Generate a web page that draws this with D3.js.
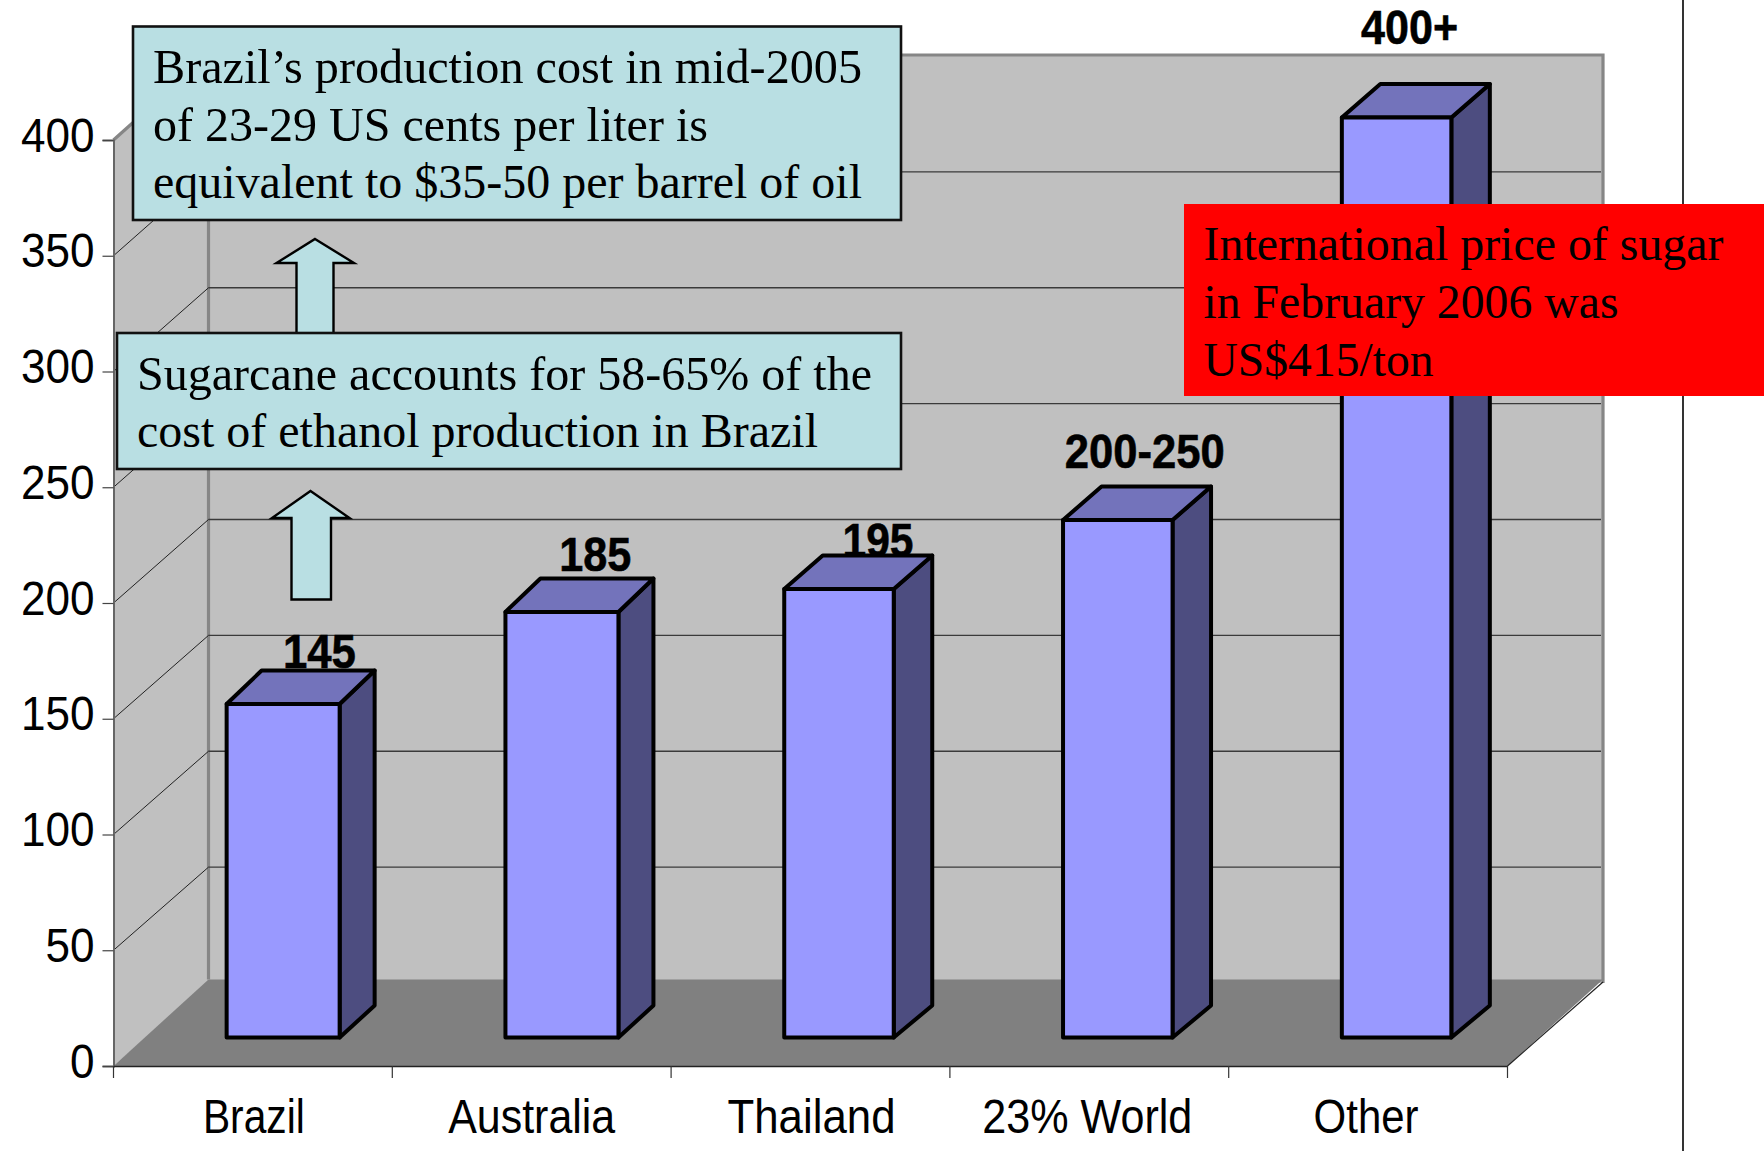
<!DOCTYPE html>
<html>
<head>
<meta charset="utf-8">
<script src="https://cdn.jsdelivr.net/npm/d3@7"></script>
<style>
  html, body { margin: 0; padding: 0; background: #fff; }
  svg { display: block; }
  .sans { font-family: "Liberation Sans", Arial, sans-serif; }
  .serif { font-family: "Liberation Serif", "Times New Roman", serif; }
</style>
</head>
<body>
<svg id="chart" width="1764" height="1151"></svg>
<script>
// Sugar production cost by origin
const categories = ["Brazil", "Australia", "Thailand", "23% World", "Other"];
const costs = [145, 185, 195, 225, 400];
const valueLabels = ["145", "185", "195", "200-250", "400+"];
const yTicks = [0, 50, 100, 150, 200, 250, 300, 350, 400];

// Layout of the 3D box
const W = 1764, H = 1151;
const frontLeft = 113.5, frontRight = 1507.5, frontBase = 1066, frontTop = 140;
const backLeft = 208.5, backRight = 1603, backBase = 983, backTop = 55, floorBack = 979.5;
const barBase = 1037.5, barTop400 = 117.5, barDy = 33.5, barBottomDy = 32;
const barRightSpan = 148;   // front-left corner to back-right corner of a bar

const svg = d3.select("#chart");

const yFront = d3.scaleLinear().domain([0, 400]).range([frontBase, frontTop]);
const yBack = d3.scaleLinear().domain([0, 400]).range([backBase, backTop + 1]);
const yBar = d3.scaleLinear().domain([0, 400]).range([barBase, barTop400]);
const xBand = d3.scaleBand().domain(categories).range([frontLeft, frontRight]);
const barOffset = 29.5;
const barWidths = [113, 113, 109.5, 109.5, 109.5];
const baseWidth = xBand.bandwidth() * 0.4;
const barX = c => xBand(c) + xBand.bandwidth() / 2 - baseWidth / 2 + barOffset;

const pts = a => a.map(p => p.join(",")).join(" ");

// Walls and floor
const box = svg.append("g");
box.append("polygon")
  .attr("points", pts([[frontLeft, frontTop], [backLeft, backTop], [backLeft, backBase], [frontLeft, frontBase]]))
  .attr("fill", "#c0c0c0");
box.append("rect")
  .attr("x", backLeft).attr("y", backTop)
  .attr("width", backRight - backLeft).attr("height", backBase - backTop)
  .attr("fill", "#c0c0c0");
box.append("polygon")
  .attr("points", pts([[frontLeft, frontBase], [backLeft, floorBack], [backRight, floorBack], [frontRight, frontBase]]))
  .attr("fill", "#808080");

// Gridlines across the back wall and the side wall
const grid = svg.append("g");
grid.selectAll("line.back")
  .data(yTicks.filter(t => t > 0 && t < 400))
  .join("line").attr("class", "back")
  .attr("x1", backLeft).attr("x2", backRight - 2)
  .attr("y1", d => yBack(d)).attr("y2", d => yBack(d))
  .attr("stroke", "#3a3a3a").attr("stroke-width", 1.3);
grid.selectAll("line.side")
  .data(yTicks.filter(t => t > 0 && t < 400))
  .join("line").attr("class", "side")
  .attr("x1", frontLeft).attr("x2", backLeft)
  .attr("y1", d => yFront(d)).attr("y2", d => yBack(d))
  .attr("stroke", "#222").attr("stroke-width", 1);

// Wall outline
box.append("polyline")
  .attr("points", pts([[frontLeft, frontTop], [backLeft, backTop], [backRight, backTop], [backRight, backBase]]))
  .attr("fill", "none").attr("stroke", "#868686").attr("stroke-width", 3.2);
box.append("line")
  .attr("x1", backLeft).attr("x2", backLeft).attr("y1", backTop).attr("y2", floorBack)
  .attr("stroke", "#868686").attr("stroke-width", 3.2);
box.append("line")
  .attr("x1", frontRight).attr("y1", frontBase).attr("x2", backRight).attr("y2", backBase - 1)
  .attr("stroke", "#222").attr("stroke-width", 1.2);

// Axes
const yAxis = svg.append("g").attr("class", "sans")
  .attr("transform", `translate(${frontLeft},0)`)
  .call(d3.axisLeft(yFront).tickValues(yTicks).tickSize(11).tickPadding(0));
yAxis.select(".domain").attr("stroke", "#666").attr("stroke-width", 2);
yAxis.selectAll(".tick line").attr("stroke", "#444").attr("stroke-width", 1.2);
yAxis.selectAll(".tick text")
  .attr("font-size", 49).attr("fill", "#000")
  .attr("x", 0).attr("dy", 0)
  .attr("text-anchor", "end")
  .attr("transform", "translate(-19,11) scale(0.9,1)");

const xAxis = svg.append("g").attr("class", "sans")
  .attr("transform", `translate(0,${frontBase})`)
  .call(d3.axisBottom(xBand).tickSize(0).tickPadding(0));
xAxis.select(".domain").attr("stroke", "#222").attr("stroke-width", 1.5);
const xLabelWidths = [102, 167, 168, 210, 105];
const xLabelShift = [1, 0, 1, -2, -2];
xAxis.selectAll(".tick text")
  .attr("font-size", 49).attr("fill", "#000")
  .attr("y", 67).attr("dy", 0)
  .attr("dx", (d, i) => xLabelShift[i])
  .attr("textLength", (d, i) => xLabelWidths[i])
  .attr("lengthAdjust", "spacingAndGlyphs");

svg.append("g").selectAll("line")
  .data(categories.map(c => xBand(c)).concat(frontRight))
  .join("line")
  .attr("x1", d => d).attr("x2", d => d)
  .attr("y1", frontBase).attr("y2", frontBase + 12)
  .attr("stroke", "#333").attr("stroke-width", 1.2);

// Value labels sit behind the bars, so a bar top can cut into them
const labelShift = [37, 34, 38, 26, 12];
const labelBaseline = [668, 571, 557, 468, 44];
const labelWidths = [73, 72, 71, 160, 97];
svg.append("g").attr("class", "sans").selectAll("text")
  .data(valueLabels)
  .join("text")
  .attr("x", (d, i) => barX(categories[i]) + baseWidth / 2 + labelShift[i])
  .attr("y", (d, i) => labelBaseline[i])
  .attr("text-anchor", "middle")
  .attr("font-size", 49).attr("font-weight", "bold").attr("fill", "#000")
  .attr("stroke", "#000").attr("stroke-width", 0.6)
  .attr("textLength", (d, i) => labelWidths[i])
  .attr("lengthAdjust", "spacingAndGlyphs")
  .text(d => d);

// Bars
const bars = svg.append("g").selectAll("g")
  .data(categories.map((c, i) => ({ c, v: costs[i], w: barWidths[i] })))
  .join("g")
  .attr("stroke", "#000").attr("stroke-width", 4).attr("stroke-linejoin", "round");
bars.append("polygon")
  .attr("fill", "#4d4d80")
  .attr("points", d => {
    const x0 = barX(d.c), x1 = x0 + d.w, x2 = x0 + barRightSpan, t = yBar(d.v);
    return pts([[x1, t], [x2, t - barDy], [x2, barBase - barBottomDy], [x1, barBase]]);
  });
bars.append("polygon")
  .attr("fill", "#7373bb")
  .attr("points", d => {
    const x0 = barX(d.c), x1 = x0 + d.w, x2 = x0 + barRightSpan, t = yBar(d.v);
    return pts([[x0, t], [x0 + (x2 - x1), t - barDy], [x2, t - barDy], [x1, t]]);
  });
bars.append("rect")
  .attr("fill", "#9999ff")
  .attr("x", d => barX(d.c)).attr("width", d => d.w)
  .attr("y", d => yBar(d.v)).attr("height", d => barBase - yBar(d.v));

// Page rule to the right of the chart
svg.append("line")
  .attr("x1", 1683).attr("x2", 1683).attr("y1", 0).attr("y2", H)
  .attr("stroke", "#000").attr("stroke-width", 1.6);

// Up arrows linking the callouts
const calloutFill = "#b9dfe3";
const arrows = [
  { tip: 315, top: 239, headY: 263, headL: 276.5, headR: 354, shaftL: 296.5, shaftR: 333.5, bottom: 334 },
  { tip: 310.5, top: 491, headY: 518, headL: 272, headR: 349.5, shaftL: 291.5, shaftR: 331, bottom: 599.5 }
];
svg.append("g").selectAll("polygon")
  .data(arrows)
  .join("polygon")
  .attr("fill", calloutFill).attr("stroke", "#000").attr("stroke-width", 2.4)
  .attr("points", a => pts([[a.tip, a.top], [a.headR, a.headY], [a.shaftR, a.headY], [a.shaftR, a.bottom],
    [a.shaftL, a.bottom], [a.shaftL, a.headY], [a.headL, a.headY]]));

// Callouts
const callouts = [
  { x: 133, y: 26.5, w: 768, h: 193.5, fill: calloutFill, stroke: "#111", tx: 153,
    lines: [["Brazil’s production cost in mid-2005", 709, 83], ["of 23-29 US cents per liter is", 555, 141], ["equivalent to $35-50 per barrel of oil", 709, 198]] },
  { x: 117, y: 333, w: 784, h: 136, fill: calloutFill, stroke: "#111", tx: 137,
    lines: [["Sugarcane accounts for 58-65% of the", 735, 390], ["cost of ethanol production in Brazil", 681, 447]] },
  { x: 1184, y: 204, w: 580, h: 192, fill: "#ff0000", stroke: "none", tx: 1203.5,
    lines: [["International price of sugar", 520, 260], ["in February 2006 was", 415, 318], ["US$415/ton", 230, 376]] }
];
const notes = svg.append("g").selectAll("g").data(callouts).join("g");
notes.append("rect")
  .attr("x", d => d.x).attr("y", d => d.y).attr("width", d => d.w).attr("height", d => d.h)
  .attr("fill", d => d.fill).attr("stroke", d => d.stroke).attr("stroke-width", 2.6);
notes.each(function (d) {
  d3.select(this).selectAll("text").data(d.lines).join("text")
    .attr("class", "serif")
    .attr("x", d.tx).attr("y", l => l[2])
    .attr("font-size", 48).attr("fill", "#000")
    .attr("textLength", l => l[1]).attr("lengthAdjust", "spacingAndGlyphs")
    .text(l => l[0]);
});
</script>
</body>
</html>
